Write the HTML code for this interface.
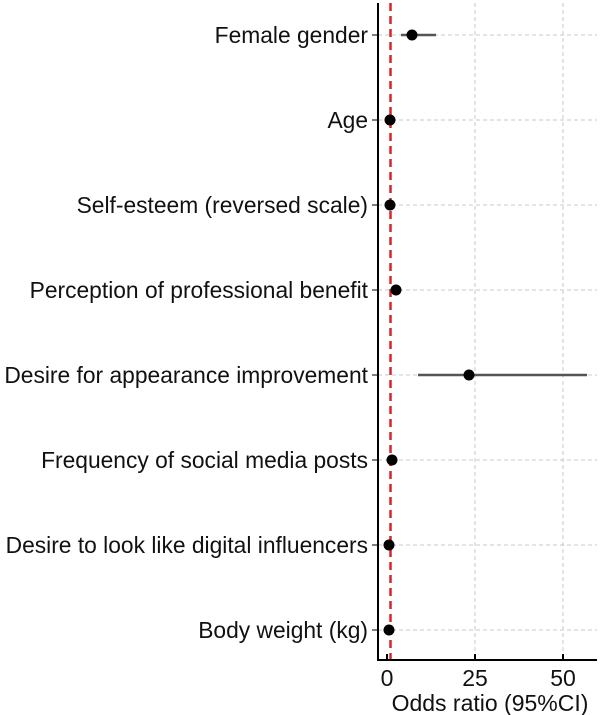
<!DOCTYPE html>
<html><head><meta charset="utf-8"><style>
body{margin:0;background:#fff;}
svg{display:block;font-family:"Liberation Sans",sans-serif;}
</style></head><body>
<svg width="600" height="715" xmlns="http://www.w3.org/2000/svg">
<g stroke="#c8c8c8" stroke-dasharray="4,3" stroke-width="1">
<line x1="475" y1="3" x2="475" y2="660"/><line x1="563" y1="3" x2="563" y2="660"/>
<line x1="378" y1="35" x2="597" y2="35"/><line x1="378" y1="120" x2="597" y2="120"/>
<line x1="378" y1="205" x2="597" y2="205"/><line x1="378" y1="290" x2="597" y2="290"/>
<line x1="378" y1="375" x2="597" y2="375"/><line x1="378" y1="460" x2="597" y2="460"/>
<line x1="378" y1="545" x2="597" y2="545"/><line x1="378" y1="630" x2="597" y2="630"/>
</g>
<g stroke="#555" stroke-width="2.5">
<line x1="401" y1="35" x2="436" y2="35"/>
<line x1="418" y1="375" x2="587" y2="375"/>
<line x1="393" y1="290" x2="401" y2="290"/>
</g>
<line x1="390.5" y1="3" x2="390.5" y2="660" stroke="#d62728" stroke-width="2.5" stroke-dasharray="8,5"/>
<g fill="#000">
<circle cx="412" cy="35" r="5.5"/><circle cx="390" cy="120" r="5.5"/>
<circle cx="390" cy="205" r="5.5"/><circle cx="396" cy="290" r="5.5"/>
<circle cx="469" cy="375" r="5.5"/><circle cx="392" cy="460" r="5.5"/>
<circle cx="389" cy="545" r="5.5"/><circle cx="389" cy="630" r="5.5"/>
</g>
<g stroke="#000" stroke-width="2">
<line x1="378" y1="3" x2="378" y2="661"/><line x1="377" y1="660" x2="597" y2="660"/>
<line x1="387" y1="660" x2="387" y2="654"/><line x1="475" y1="660" x2="475" y2="654"/><line x1="563" y1="660" x2="563" y2="654"/>
</g>
<g stroke="#000" stroke-width="1">
<line x1="372" y1="35" x2="378" y2="35"/><line x1="372" y1="120" x2="378" y2="120"/>
<line x1="372" y1="205" x2="378" y2="205"/><line x1="372" y1="290" x2="378" y2="290"/>
<line x1="372" y1="375" x2="378" y2="375"/><line x1="372" y1="460" x2="378" y2="460"/>
<line x1="372" y1="545" x2="378" y2="545"/><line x1="372" y1="630" x2="378" y2="630"/>
</g>
<g font-size="22.8" text-anchor="end" fill="#111">
<text x="368" y="43">Female gender</text>
<text x="368" y="128">Age</text>
<text x="368" y="213">Self-esteem (reversed scale)</text>
<text x="368" y="298">Perception of professional benefit</text>
<text x="368" y="383">Desire for appearance improvement</text>
<text x="368" y="468">Frequency of social media posts</text>
<text x="368" y="553">Desire to look like digital influencers</text>
<text x="368" y="638">Body weight (kg)</text>
</g>
<g font-size="23" text-anchor="middle" fill="#111">
<text x="387" y="686">0</text><text x="475" y="686">25</text><text x="563" y="686">50</text>
<text x="490" y="711">Odds ratio (95%CI)</text>
</g>
</svg>
</body></html>
